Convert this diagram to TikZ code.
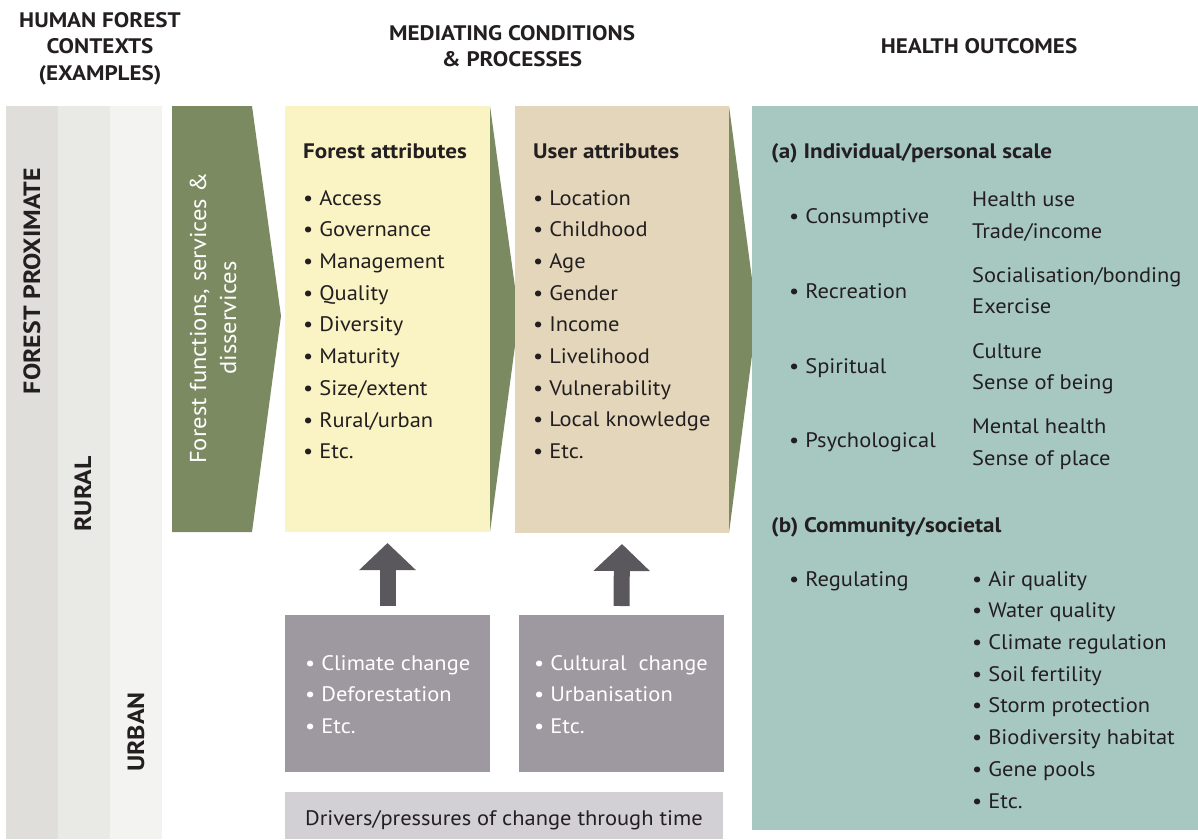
\documentclass[tikz,border=0pt]{standalone}
\usepackage{xcolor}
\usepackage{fontspec}
\setmainfont{PT Sans}[FakeStretch=1.07, BoldFeatures={FakeStretch=1.1}]
\usetikzlibrary{positioning,arrows.meta,calc}

\definecolor{ink}{HTML}{231F20}
\definecolor{bandA}{HTML}{DFDEDA}
\definecolor{bandB}{HTML}{E9E9E6}
\definecolor{bandC}{HTML}{F3F3F2}
\definecolor{leaf}{HTML}{7C8A62}
\definecolor{pale}{HTML}{FAF3C4}
\definecolor{sand}{HTML}{E4D6BA}
\definecolor{sea}{HTML}{A7C8C1}
\definecolor{mauve}{HTML}{9E98A1}
\definecolor{arrowgrey}{HTML}{5A575D}
\definecolor{mist}{HTML}{D2D0D4}

\newcommand{\bodysize}{\fontsize{21}{31.7}\selectfont}
\newcommand{\headsize}{\fontsize{21}{26.5}\selectfont}

\begin{document}
\begin{tikzpicture}[x=1pt, y=-1pt, font=\bodysize, text=ink,
    band/.style={anchor=north west, inner sep=0pt, outer sep=0pt, minimum width=52pt, minimum height=733pt},
    panel/.style={anchor=north west, inner sep=0pt, outer sep=0pt},
    bandlabel/.style={rotate=90, inner sep=0pt, font=\bfseries\fontsize{23.5}{26}\selectfont},
    header/.style={align=center, anchor=north, inner sep=0pt, font=\bfseries\headsize},
    title/.style={anchor=base west, inner sep=0pt, font=\bfseries\bodysize},
    itemlist/.style={align=left, anchor=north west, inner sep=0pt},
    item/.style={anchor=base west, inner sep=0pt},
    uparrow/.style={draw=arrowgrey, line width=16pt, -{Triangle[width=55pt,length=27pt]}}]
    \useasboundingbox (0,0) rectangle (1198,839);

    % contesti (bande a sinistra)
    \node (proximate) [band, fill=bandA] at (6,106) {};
    \node (rural) [band, fill=bandB] at (58,106) {};
    \node (urban) [band, fill=bandC] at (110,106) {};
    \node (proximatelbl) [bandlabel] at (32,281) {FOREST PROXIMATE};
    \node (rurallbl) [bandlabel] at (83,494) {RURAL};
    \node (urbanlbl) [bandlabel] at (136,732) {URBAN};

    % intestazioni
    \node (hcontext) [header] at (100,12) {HUMAN FOREST\\CONTEXTS\\(EXAMPLES)};
    \node (hmediate) [header] at (512,25) {MEDIATING CONDITIONS\\\& PROCESSES};
    \node (houtcome) [header] at (979,38) {HEALTH OUTCOMES};

    % freccia verde
    \fill[leaf] (172,106) -- (252,106) -- (281,316) -- (252,532) -- (172,532) -- cycle;
    \node (functions) [rotate=90, align=center, text=white, inner sep=0pt,
        font=\fontsize{23}{30}\selectfont] at (213,318)
        {Forest functions, services \&\\disservices};

    % riquadri centrali
    \node (forest) [panel, fill=pale, minimum width=205pt, minimum height=426pt] at (285,106) {};
    \fill[leaf] (forest.north east) -- ($(forest.east)+(29,-3)$) -- (forest.south east) -- cycle;
    \node (user) [panel, fill=sand, minimum width=214pt, minimum height=427pt] at (515,106) {};
    \fill[leaf] (user.north east) -- ($(user.east)+(28,-3)$) -- (user.south east) -- cycle;
    \node (health) [panel, fill=sea, minimum width=446pt, minimum height=724pt] at (752,106) {};

    \node (forestttl) [title] at (303,158) {Forest attributes};
    \node (forestlist) [itemlist] at (303,190) {\textbullet\ Access\\\textbullet\ Governance\\\textbullet\ Management\\\textbullet\ Quality\\\textbullet\ Diversity\\\textbullet\ Maturity\\\textbullet\ Size/extent\\\textbullet\ Rural/urban\\\textbullet\ Etc.};
    \node (userttl) [title] at (533,158) {User attributes};
    \node (userlist) [itemlist] at (533,190) {\textbullet\ Location\\\textbullet\ Childhood\\\textbullet\ Age\\\textbullet\ Gender\\\textbullet\ Income\\\textbullet\ Livelihood\\\textbullet\ Vulnerability\\\textbullet\ Local knowledge\\\textbullet\ Etc.};

    % esiti di salute
    \node (scalea) [title] at (771,158) {(a) Individual/personal scale};
    \node (consumptive) [item] at (789,223) {\textbullet\ Consumptive};
    \node (consumptivelist) [itemlist] at (972,192) {Health use\\Trade/income};
    \node (recreation) [item] at (789,298) {\textbullet\ Recreation};
    \node (recreationlist) [itemlist] at (972,267) {Socialisation/bonding\\Exercise};
    \node (spiritual) [item] at (789,373) {\textbullet\ Spiritual};
    \node (spirituallist) [itemlist] at (972,343) {Culture\\Sense of being};
    \node (psycho) [item] at (789,447) {\textbullet\ Psychological};
    \node (psycholist) [itemlist] at (972,419) {Mental health\\Sense of place};
    \node (scaleb) [title] at (771,532) {(b) Community/societal};
    \node (regulating) [item] at (789,586) {\textbullet\ Regulating};
    \node (regulatinglist) [itemlist] at (972,571) {\textbullet\ Air quality\\\textbullet\ Water quality\\\textbullet\ Climate regulation\\\textbullet\ Soil fertility\\\textbullet\ Storm protection\\\textbullet\ Biodiversity habitat\\\textbullet\ Gene pools\\\textbullet\ Etc.};

    % pressioni di cambiamento
    \node (drvforest) [panel, fill=mauve, minimum width=205pt, minimum height=157pt] at (285,615) {};
    \node (drvuser) [panel, fill=mauve, minimum width=205pt, minimum height=157pt] at (519,615) {};
    \node (drvforestlist) [itemlist, text=white] at (305,655) {\textbullet\ Climate change\\\textbullet\ Deforestation\\\textbullet\ Etc.};
    \node (drvuserlist) [itemlist, text=white] at (534,655) {\textbullet\ Cultural\ \ change\\\textbullet\ Urbanisation\\\textbullet\ Etc.};
    \node (drivers) [panel, fill=mist, minimum width=438pt, minimum height=47pt] at (285,792) {};
    \node (driverslbl) [inner sep=0pt, anchor=base] at (504,825) {Drivers/pressures of change through time};

    % collegamenti
    \draw [uparrow] ([yshift=9pt]drvforest.north) -- ([yshift=-11pt]forest.south);
    \draw [uparrow] ([yshift=9pt]drvuser.north) -- ([yshift=-11pt]user.south);
\end{tikzpicture}
\end{document}
